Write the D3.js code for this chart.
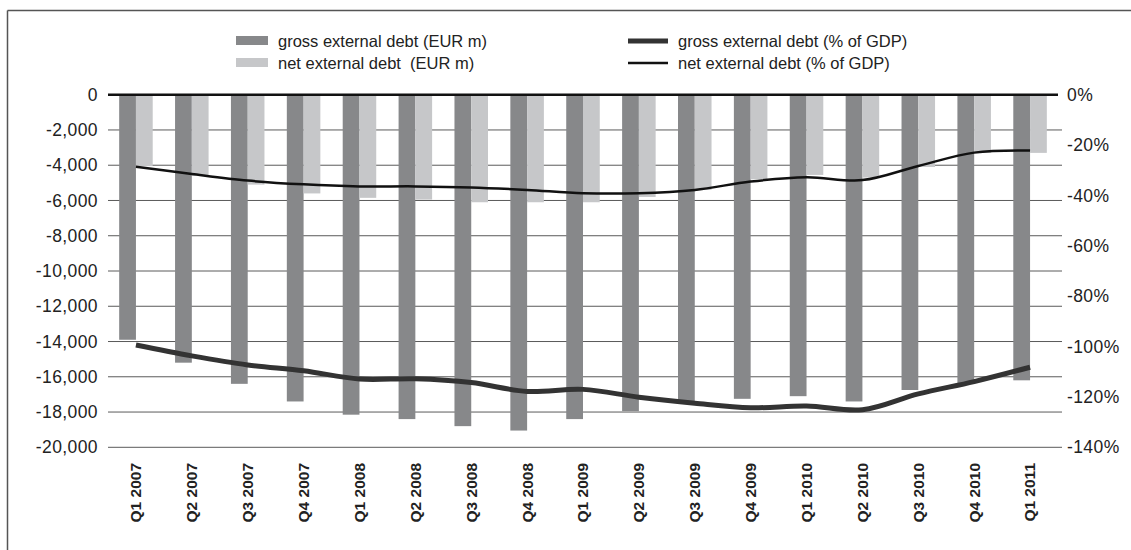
<!DOCTYPE html>
<html lang="en">
<head>
    <meta charset="utf-8">
    <title>External debt</title>
    <style>
        body {
            margin: 0;
            background: #fff;
        }

        svg text {
            font-family: "Liberation Sans", Arial, Helvetica, sans-serif;
            fill: #222;
        }

        .grid line {
            stroke: #5a5a5a;
            stroke-width: 1px;
        }

        .tick-label {
            font-size: 17.5px;
            letter-spacing: 0.4px;
        }

        .cat-label {
            font-size: 15.5px;
            font-weight: bold;
        }

        .legend text {
            font-size: 16.5px;
        }
    </style>
</head>
<body>
<div id="chart"></div>
<script src="https://d3js.org/d3.v7.min.js"></script>
<script>
    const quarters = ["Q1 2007", "Q2 2007", "Q3 2007", "Q4 2007", "Q1 2008", "Q2 2008", "Q3 2008", "Q4 2008",
        "Q1 2009", "Q2 2009", "Q3 2009", "Q4 2009", "Q1 2010", "Q2 2010", "Q3 2010", "Q4 2010", "Q1 2011"];

    // EUR m
    const grossDebt = [-13900, -15200, -16400, -17400, -18150, -18400, -18800, -19050,
        -18400, -17950, -17400, -17250, -17100, -17400, -16750, -16400, -16200];
    const netDebt = [-4050, -4600, -5100, -5600, -5850, -5950, -6100, -6100,
        -6100, -5800, -5400, -4800, -4550, -4700, -4100, -3300, -3300];

    // % of GDP
    const grossPct = [-99.4, -103.7, -107.3, -109.6, -112.9, -112.8, -114.3, -117.8,
        -117.0, -120.1, -122.5, -124.3, -123.6, -125.1, -118.8, -113.9, -108.2];
    const netPct = [-28.6, -31.5, -34.1, -35.6, -36.4, -36.4, -36.8, -37.8,
        -39.1, -39.1, -37.8, -34.5, -32.8, -33.9, -28.3, -23.0, -22.2];

    const leftTicks = [0, -2000, -4000, -6000, -8000, -10000, -12000, -14000, -16000, -18000, -20000];
    const rightTicks = [0, -20, -40, -60, -80, -100, -120, -140];

    const legendItems = [
        {label: "gross external debt (EUR m)", kind: "bar", color: "#87888a"},
        {label: "net external debt  (EUR m)", kind: "bar", color: "#c6c7c9"},
        {label: "gross external debt (% of GDP)", kind: "line", color: "#333", width: 5},
        {label: "net external debt (% of GDP)", kind: "line", color: "#111", width: 2.5}
    ];

    const width = 1131;
    const height = 550;
    const plotLeft = 108, plotRight = 1058, plotTop = 94.7, plotBottom = 447.3;

    const svg = d3.select("#chart").append("svg")
        .attr("width", width)
        .attr("height", height);

    // frame
    svg.append("line")
        .attr("x1", 7.5).attr("x2", width).attr("y1", 10.5).attr("y2", 10.5)
        .attr("stroke", "#555").attr("stroke-width", 1.5);
    svg.append("line")
        .attr("x1", 7.5).attr("x2", 7.5).attr("y1", 10.5).attr("y2", height)
        .attr("stroke", "#555").attr("stroke-width", 1.5);

    const x = d3.scaleBand()
        .domain(quarters)
        .range([plotLeft, plotRight])
        .paddingInner(0.4)
        .paddingOuter(0.2);

    const sub = d3.scaleBand()
        .domain(["gross", "net"])
        .range([0, x.bandwidth()]);

    const yLeft = d3.scaleLinear().domain([-20000, 0]).range([plotBottom, plotTop]);
    const yRight = d3.scaleLinear().domain([-140, 0]).range([plotBottom, plotTop]);

    const center = q => x(q) + x.bandwidth() / 2;

    // gridlines
    svg.append("g")
        .attr("class", "grid")
        .selectAll("line")
        .data(leftTicks.filter(d => d !== 0))
        .join("line")
        .attr("x1", plotLeft)
        .attr("x2", plotRight + 4)
        .attr("y1", d => yLeft(d))
        .attr("y2", d => yLeft(d));

    // left axis labels
    svg.append("g")
        .selectAll("text")
        .data(leftTicks)
        .join("text")
        .attr("class", "tick-label")
        .attr("x", 98)
        .attr("y", d => yLeft(d))
        .attr("dy", "0.35em")
        .attr("text-anchor", "end")
        .text(d => d3.format(",")(d).replace("−", "-"));

    // right axis labels
    svg.append("g")
        .selectAll("text")
        .data(rightTicks)
        .join("text")
        .attr("class", "tick-label")
        .attr("x", 1067)
        .attr("y", d => yRight(d))
        .attr("dy", "0.35em")
        .text(d => d + "%");

    // bars
    const bars = svg.append("g");
    bars.selectAll("rect.gross")
        .data(quarters)
        .join("rect")
        .attr("class", "gross")
        .attr("x", q => x(q) + sub("gross"))
        .attr("width", sub.bandwidth())
        .attr("y", yLeft(0))
        .attr("height", (q, i) => yLeft(grossDebt[i]) - yLeft(0))
        .attr("fill", legendItems[0].color);

    bars.selectAll("rect.net")
        .data(quarters)
        .join("rect")
        .attr("class", "net")
        .attr("x", q => x(q) + sub("net"))
        .attr("width", sub.bandwidth())
        .attr("y", yLeft(0))
        .attr("height", (q, i) => yLeft(netDebt[i]) - yLeft(0))
        .attr("fill", legendItems[1].color);

    // zero line
    svg.append("line")
        .attr("x1", plotLeft).attr("x2", plotRight)
        .attr("y1", yLeft(0)).attr("y2", yLeft(0))
        .attr("stroke", "#111").attr("stroke-width", 2.5);

    // lines
    const line = d3.line()
        .x((d, i) => center(quarters[i]))
        .y(d => yRight(d))
        .curve(d3.curveCatmullRom.alpha(0.5));

    svg.append("path")
        .datum(grossPct)
        .attr("d", line)
        .attr("fill", "none")
        .attr("stroke", legendItems[2].color)
        .attr("stroke-width", legendItems[2].width);

    svg.append("path")
        .datum(netPct)
        .attr("d", line)
        .attr("fill", "none")
        .attr("stroke", legendItems[3].color)
        .attr("stroke-width", legendItems[3].width);

    // category labels
    svg.append("g")
        .selectAll("text")
        .data(quarters)
        .join("text")
        .attr("class", "cat-label")
        .attr("transform", q => "translate(" + center(q) + ",463) rotate(-90)")
        .attr("dy", "0.35em")
        .attr("text-anchor", "end")
        .text(q => q);

    // legend
    const legendPos = [[236, 41], [236, 63], [628, 41], [628, 63]];
    const legend = svg.append("g").attr("class", "legend");
    legendItems.forEach(function (item, i) {
        const [lx, ly] = legendPos[i];
        if (item.kind === "bar") {
            legend.append("rect")
                .attr("x", lx).attr("y", ly - 5)
                .attr("width", 32).attr("height", 9)
                .attr("fill", item.color);
        } else {
            legend.append("line")
                .attr("x1", lx).attr("x2", lx + 40)
                .attr("y1", ly).attr("y2", ly)
                .attr("stroke", item.color)
                .attr("stroke-width", item.width);
        }
        legend.append("text")
            .attr("x", lx + (item.kind === "bar" ? 42 : 50))
            .attr("y", ly)
            .attr("dy", "0.35em")
            .style("white-space", "pre")
            .text(item.label);
    });
</script>
</body>
</html>
